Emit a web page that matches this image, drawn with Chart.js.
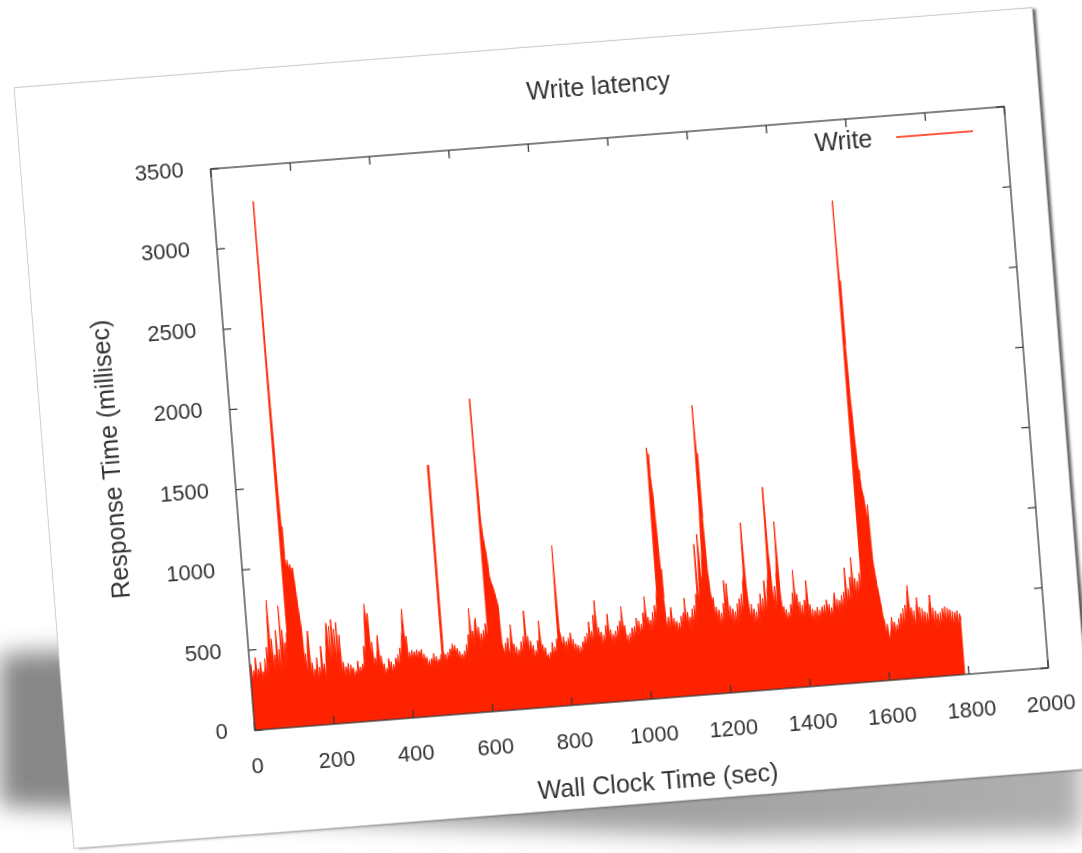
<!DOCTYPE html>
<html>
<head>
<meta charset="utf-8">
<script src="https://cdn.jsdelivr.net/npm/chart.js@4.4.1/dist/chart.umd.min.js"></script>
<style>
    html, body { margin: 0; padding: 0; background: #fff; }
    body { width: 1082px; height: 853px; overflow: hidden; position: relative; font-family: "Liberation Sans", Arial, sans-serif; }
    #shadowBlur { position: absolute; left: 0; top: 0; width: 1082px; height: 853px; filter: blur(12px); }
    #shadowShape {
        position: absolute; left: 0; top: 0; width: 1082px; height: 853px;
        background: linear-gradient(90deg, #858585 0%, #9a9a9a 45%, #b0b0b0 100%);
        clip-path: polygon(-20px 655px, 300px 640px, 1100px 590px, 1100px 832px, 720px 836px, -20px 805px);
    }
    #card {
        position: absolute; left: 43px; top: 47px; width: 1020px; height: 762px;
        background: #fff;
        transform: rotate(-4.5deg);
        box-shadow: 0 0 0 1px #cfcfcf, 4px 1px 3px rgba(0, 0, 0, 0.6);
    }
    #card canvas { position: absolute; left: 0; top: 0; }
</style>
</head>
<body>
<div id="shadowBlur"><div id="shadowShape"></div></div>
<div id="card"><canvas id="latencyChart" width="1020" height="762"></canvas></div>
<script>
// [wall clock sec, write latency ms]
var segStart = [
    [0, 330], [3, 410], [6, 300], [9, 370], [12, 340], [15, 450], [18, 300], [21, 380], [24, 330], [27, 420],
    [30, 290], [33, 360], [36, 320], [39, 440], [42, 300], [45, 510], [48, 340], [51, 590], [54, 800], [56, 380],
    [59, 560], [62, 320], [65, 460], [68, 380], [71, 610], [74, 350], [77, 490], [80, 300], [82, 760], [84, 410],
    [87, 610], [90, 370], [93, 530], [96, 420], [98, 590], [100, 3280], [102, 2300], [104, 1600], [106, 1250], [108, 1060],
    [111, 980], [114, 1040], [117, 970], [120, 1010], [123, 950], [126, 990], [129, 880], [132, 760], [135, 660], [137, 600],
    [139, 370]
];

var segEarly = [
    [142, 450], [145, 300], [148, 500], [151, 590], [154, 310], [157, 390], [160, 270], [163, 350], [166, 310], [169, 420],
    [172, 270], [175, 360], [178, 290], [181, 490], [184, 310], [187, 380], [190, 270], [193, 430], [196, 540], [199, 630],
    [202, 360], [205, 610], [208, 320], [211, 650], [214, 380], [217, 590], [220, 340], [223, 630], [226, 300], [229, 550],
    [232, 290], [235, 380], [238, 270], [241, 350], [244, 290], [247, 370], [250, 270], [253, 360], [256, 300], [259, 340],
    [262, 270], [265, 320], [268, 290], [271, 380], [274, 280], [277, 340], [280, 300], [283, 360], [286, 310], [289, 470],
    [292, 340], [295, 590], [298, 730], [301, 550], [304, 670], [307, 380], [310, 490], [313, 320], [316, 390], [319, 340],
    [322, 440], [325, 530], [328, 320], [331, 400], [334, 290], [337, 350], [340, 270], [343, 320], [346, 290], [349, 380],
    [352, 300], [355, 360], [358, 280], [361, 340], [364, 300], [367, 380], [370, 320], [373, 400], [376, 310], [379, 440],
    [382, 340], [385, 490], [388, 550], [391, 680], [394, 380], [397, 510], [400, 340], [403, 410], [406, 360], [409, 420],
    [412, 350], [415, 410], [418, 360], [421, 420], [424, 350], [427, 410], [430, 370], [433, 420], [436, 340], [439, 390],
    [442, 320], [445, 370], [448, 300], [451, 350], [454, 300], [457, 360], [460, 310], [463, 390], [466, 320], [469, 370],
    [472, 300], [475, 350], [478, 320], [481, 380], [484, 320], [485, 1560], [487, 420], [490, 330], [493, 380], [496, 320],
    [499, 390], [502, 340], [505, 410], [508, 360], [511, 440], [514, 380], [517, 430], [520, 350], [523, 410], [526, 340],
    [529, 390], [532, 320], [535, 370], [538, 310], [541, 390], [544, 340], [547, 430], [550, 360], [553, 490], [556, 380],
    [559, 650], [562, 400], [565, 510], [568, 410], [571, 550], [574, 590], [577, 430], [580, 530], [583, 390], [586, 490],
    [589, 420], [592, 510], [595, 440], [598, 550]
];

var segMid = [
    [601, 480], [603, 1950], [605, 1550], [607, 1200], [609, 1100], [612, 1040], [615, 960], [618, 840], [621, 800], [625, 770],
    [629, 720], [632, 680], [634, 650], [636, 420], [639, 380], [642, 340], [645, 420], [648, 350], [651, 450], [654, 330],
    [657, 390], [660, 530], [663, 330], [666, 410], [669, 320], [672, 390], [675, 310], [678, 370], [681, 320], [684, 420],
    [687, 330], [690, 450], [693, 360], [696, 610], [699, 380], [702, 450], [705, 330], [708, 420], [711, 320], [714, 390],
    [717, 300], [720, 360], [723, 320], [726, 420], [729, 350], [732, 540], [735, 330], [738, 390], [741, 310], [744, 370],
    [747, 300], [750, 330], [753, 280], [756, 340], [759, 290], [762, 400], [765, 310], [768, 370], [771, 320], [774, 420],
    [777, 360], [780, 1000], [782, 480], [785, 430], [788, 360], [791, 430], [794, 330], [797, 400], [800, 340], [803, 420],
    [806, 360], [809, 450], [812, 340], [815, 410], [818, 320], [821, 380], [824, 310], [827, 370], [830, 300], [833, 360],
    [836, 310], [839, 390], [842, 330], [845, 420], [848, 350], [851, 440], [854, 360], [857, 510], [860, 380], [863, 450],
    [866, 360], [869, 550], [872, 400], [875, 640], [878, 390], [881, 470], [884, 360], [887, 440], [890, 340], [893, 420],
    [896, 360], [899, 480], [902, 390], [905, 550], [908, 380], [911, 450], [914, 340], [917, 420], [920, 350], [923, 440],
    [926, 370], [929, 470], [932, 380], [935, 500], [938, 400], [941, 590], [944, 390], [947, 470], [950, 350], [953, 410],
    [956, 340], [959, 420], [962, 360], [965, 450], [968, 370], [971, 460], [974, 390], [977, 510], [980, 400], [983, 490],
    [986, 400], [989, 470], [992, 410], [995, 540], [998, 430], [1001, 640], [1004, 430], [1007, 510], [1010, 420], [1013, 490],
    [1016, 410], [1019, 540], [1022, 430], [1025, 580], [1028, 460], [1031, 600], [1034, 690], [1036, 1560], [1038, 1520], [1040, 1400],
    [1042, 1330], [1044, 1240], [1046, 1000], [1048, 800], [1050, 620], [1052, 480]
];

var segLate = [
    [1055, 420], [1058, 500], [1061, 400], [1064, 520], [1066, 560], [1069, 420], [1072, 490], [1075, 400], [1078, 470], [1081, 390],
    [1084, 460], [1087, 400], [1090, 500], [1093, 420], [1096, 520], [1099, 430], [1101, 610], [1104, 440], [1107, 520], [1110, 410],
    [1113, 490], [1116, 420], [1119, 540], [1122, 430], [1125, 560], [1128, 450], [1131, 630], [1134, 480], [1136, 940], [1139, 520],
    [1142, 690], [1145, 1000], [1148, 700], [1151, 740], [1154, 900], [1157, 1200], [1159, 1800], [1161, 1500], [1163, 1100], [1165, 780],
    [1168, 640], [1171, 560], [1174, 600], [1177, 470], [1180, 540], [1183, 430], [1186, 520], [1189, 410], [1192, 500], [1195, 420],
    [1198, 560], [1201, 440], [1203, 700], [1206, 450], [1209, 680], [1212, 430], [1215, 540], [1218, 410], [1221, 520], [1224, 400],
    [1227, 500], [1230, 420], [1233, 550], [1236, 430], [1239, 580], [1242, 450], [1245, 610], [1248, 460], [1251, 680], [1254, 720],
    [1257, 1050], [1259, 650], [1262, 520], [1265, 440], [1268, 540], [1271, 410], [1274, 510], [1277, 400], [1280, 490], [1283, 410],
    [1286, 540], [1289, 420], [1292, 600], [1295, 440], [1298, 570], [1301, 450], [1304, 680], [1307, 460], [1310, 590], [1313, 670],
    [1316, 730], [1319, 1260], [1321, 850], [1324, 620], [1327, 480], [1330, 640], [1333, 470], [1336, 700], [1339, 790], [1341, 1040],
    [1343, 620], [1346, 440], [1349, 510], [1352, 420], [1355, 490], [1358, 410], [1361, 470], [1364, 420], [1367, 520], [1370, 430],
    [1373, 590], [1376, 460], [1378, 730], [1381, 470], [1384, 580], [1387, 430], [1390, 530], [1393, 420], [1396, 510], [1399, 410],
    [1402, 540], [1405, 440], [1409, 660], [1412, 430], [1415, 510], [1418, 400], [1421, 480], [1424, 390], [1427, 470], [1430, 400],
    [1433, 490], [1436, 400], [1439, 470], [1442, 410], [1445, 490], [1448, 420], [1451, 500], [1454, 420], [1457, 530], [1460, 430],
    [1463, 500], [1466, 410], [1469, 480], [1472, 420], [1475, 510], [1478, 570], [1481, 440], [1484, 530], [1487, 430], [1490, 520],
    [1493, 440], [1496, 550], [1499, 450], [1502, 570], [1505, 460], [1508, 720], [1511, 470], [1514, 590], [1517, 480], [1520, 660],
    [1523, 500], [1526, 780], [1529, 520], [1532, 650], [1535, 500], [1538, 630], [1541, 520], [1544, 680], [1547, 560], [1549, 760],
    [1551, 3000], [1553, 2500], [1555, 2100], [1557, 1780], [1559, 1600], [1561, 1420], [1563, 1320], [1565, 1280], [1568, 1190], [1571, 1150],
    [1574, 1060], [1577, 1000], [1579, 1100], [1581, 760], [1584, 680], [1587, 600], [1590, 540], [1593, 480], [1596, 400], [1599, 370]
];

var segTail = [
    [1602, 280], [1605, 350], [1608, 250], [1611, 280], [1614, 320], [1617, 390], [1620, 280], [1623, 360], [1626, 270], [1629, 340],
    [1632, 290], [1635, 380], [1638, 300], [1641, 410], [1644, 310], [1647, 440], [1650, 320], [1653, 460], [1656, 330], [1659, 500],
    [1662, 580], [1665, 330], [1668, 440], [1671, 320], [1674, 420], [1677, 310], [1680, 410], [1683, 500], [1686, 320], [1689, 440],
    [1692, 320], [1695, 430], [1698, 310], [1701, 410], [1704, 300], [1707, 400], [1710, 320], [1713, 430], [1716, 510], [1719, 320],
    [1722, 430], [1725, 310], [1728, 410], [1731, 300], [1734, 390], [1737, 300], [1740, 400], [1743, 310], [1746, 420], [1749, 320],
    [1752, 430], [1755, 320], [1758, 420], [1761, 320], [1764, 410], [1767, 310], [1770, 400], [1773, 300], [1776, 390], [1779, 310],
    [1782, 400], [1785, 300], [1788, 380], [1791, 340]
];

var xRange = [0, 2000];
var xStep = 200;
var yRange = [0, 3500];
var yStep = 500;

var chartTitle = "Write latency";
var seriesName = "Write";
var xTitle = "Wall Clock Time (sec)";
var yTitle = "Response Time (millisec)";

var red = "#ff2200";
var textColor = "#333333";
var fontFamily = '"Liberation Sans", Arial, sans-serif';

var points = segStart.concat(segEarly, segMid, segLate, segTail).map(function (p) {
    return { x: p[0], y: p[1] };
});

// gnuplot style frame: border, inward ticks on all sides, title and key inside the plot
var gnuplotFrame = {
    id: "gnuplotFrame",
    afterDatasetsDraw: function (chart) {
        var ctx = chart.ctx;
        var a = chart.chartArea;
        var xs = chart.scales.x;
        var ys = chart.scales.y;
        var tick = 8;

        ctx.save();
        ctx.strokeStyle = "#3c3c3c";
        ctx.lineWidth = 1.3;
        ctx.strokeRect(a.left, a.top, a.right - a.left, a.bottom - a.top);

        ctx.beginPath();
        xs.ticks.forEach(function (t) {
            var px = xs.getPixelForValue(t.value);
            ctx.moveTo(px, a.bottom);
            ctx.lineTo(px, a.bottom - tick);
            ctx.moveTo(px, a.top);
            ctx.lineTo(px, a.top + tick);
        });
        ys.ticks.forEach(function (t) {
            var py = ys.getPixelForValue(t.value);
            ctx.moveTo(a.left, py);
            ctx.lineTo(a.left + tick, py);
            ctx.moveTo(a.right, py);
            ctx.lineTo(a.right - tick, py);
        });
        ctx.stroke();

        ctx.fillStyle = textColor;
        ctx.font = "25px " + fontFamily;
        ctx.textBaseline = "middle";
        ctx.textAlign = "center";
        ctx.fillText(chartTitle, (a.left + a.right) / 2 - 5, a.top - 51);

        ctx.textAlign = "right";
        ctx.fillText(seriesName, a.right - 134, a.top + 23);
        ctx.strokeStyle = red;
        ctx.lineWidth = 1.5;
        ctx.beginPath();
        ctx.moveTo(a.right - 110, a.top + 22);
        ctx.lineTo(a.right - 33, a.top + 22);
        ctx.stroke();
        ctx.restore();
    }
};

var ctx = document.getElementById("latencyChart").getContext("2d");
var latencyChart = new Chart(ctx, {
    type: "line",
    data: {
        datasets: [{
            label: seriesName,
            data: points,
            borderColor: red,
            backgroundColor: red,
            borderWidth: 1,
            pointRadius: 0,
            tension: 0,
            fill: "origin"
        }]
    },
    options: {
        responsive: false,
        animation: false,
        devicePixelRatio: 1,
        layout: { padding: { left: 0, right: 35, top: 96, bottom: 0 } },
        plugins: {
            legend: { display: false },
            title: { display: false },
            tooltip: { enabled: false }
        },
        scales: {
            x: {
                type: "linear",
                min: xRange[0],
                max: xRange[1],
                grid: { display: false, drawTicks: false },
                border: { display: false },
                ticks: {
                    stepSize: xStep,
                    padding: 24,
                    color: textColor,
                    maxRotation: 0,
                    font: { family: fontFamily, size: 22 },
                    callback: function (v) { return String(v); }
                },
                title: {
                    display: true,
                    text: xTitle,
                    color: textColor,
                    font: { family: fontFamily, size: 25 },
                    padding: { top: 0, bottom: 4 }
                },
                afterFit: function (scale) {
                    scale.height = 103;
                    scale.paddingLeft = 0;
                    scale.paddingRight = 0;
                }
            },
            y: {
                min: yRange[0],
                max: yRange[1],
                grid: { display: false, drawTicks: false },
                border: { display: false },
                ticks: {
                    stepSize: yStep,
                    padding: 27,
                    color: textColor,
                    font: { family: fontFamily, size: 22 },
                    callback: function (v) { return String(v); }
                },
                title: {
                    display: true,
                    text: yTitle,
                    color: textColor,
                    font: { family: fontFamily, size: 25 },
                    padding: { top: 53, bottom: 0 }
                },
                afterFit: function (scale) { scale.width = 189; }
            }
        }
    },
    plugins: [gnuplotFrame]
});
</script>
</body>
</html>
